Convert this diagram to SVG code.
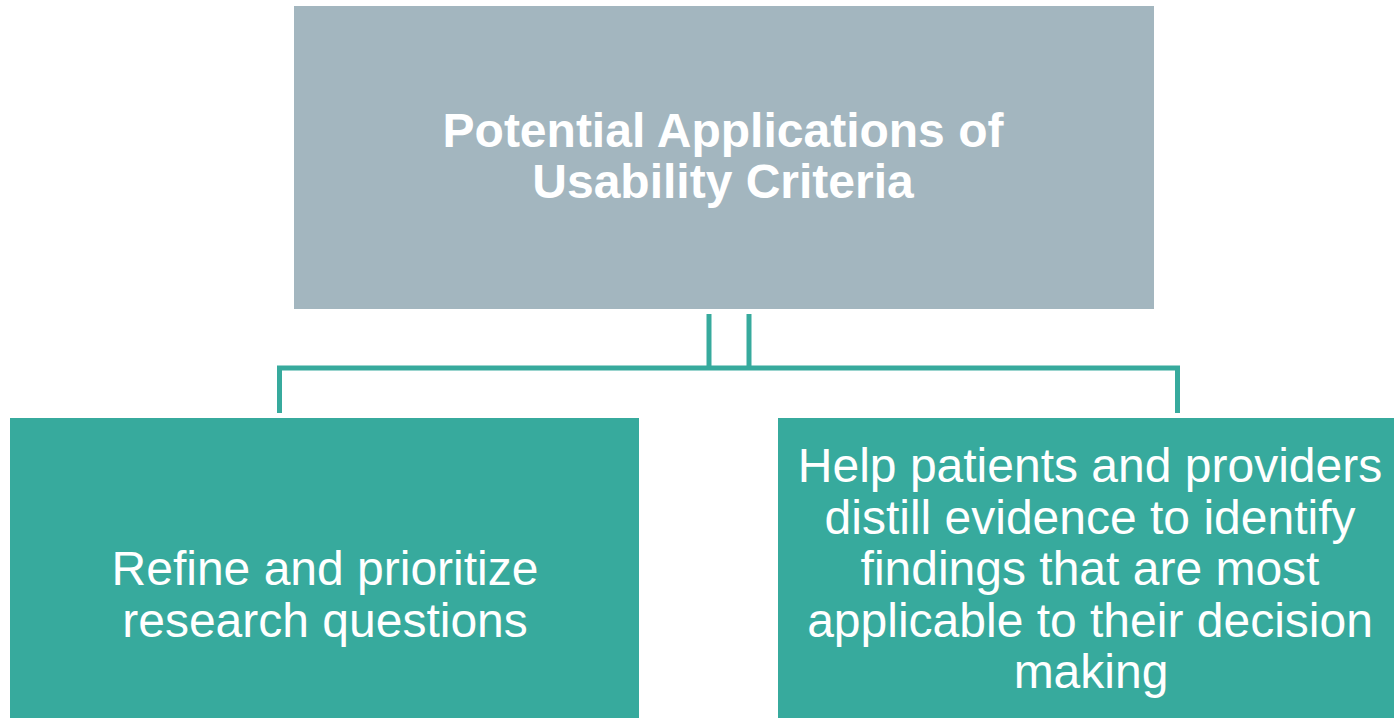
<svg xmlns="http://www.w3.org/2000/svg" width="1394" height="718" viewBox="0 0 1394 718">
<style>
.top{fill:#A3B6BF}
.box{fill:#37AA9D}
.t{font-family:"Liberation Sans",Arial,sans-serif;font-size:48px;fill:#FFFFFF;text-anchor:middle}
.b{font-weight:bold}
.c{fill:none;stroke:#37AA9D;stroke-width:5}
</style>
<rect width="1394" height="718" fill="#FFFFFF"/>
<g id="connectors">
<path class="c" d="M279.5,413 V368 H1177.5 V413"/>
<path class="c" d="M709,314 V368"/>
<path class="c" d="M749,314 V368"/>
</g>
<g id="node-root">
<rect class="top" x="294" y="6" width="860" height="303"/>
<text class="t b" x="723" y="147">Potential Applications of</text>
<text class="t b" x="723" y="198">Usability Criteria</text>
</g>
<g id="node-left">
<rect class="box" x="10" y="418" width="629" height="300"/>
<text class="t" x="325" y="584.5">Refine and prioritize</text>
<text class="t" x="325" y="636.5">research questions</text>
</g>
<g id="node-right">
<rect class="box" x="778" y="418" width="616" height="300"/>
<text class="t" x="1090" y="482">Help patients and providers</text>
<text class="t" x="1090" y="533.5">distill evidence to identify</text>
<text class="t" x="1090" y="585">findings that are most</text>
<text class="t" x="1090" y="636.5">applicable to their decision</text>
<text class="t" x="1091" y="688">making</text>
</g>
</svg>
